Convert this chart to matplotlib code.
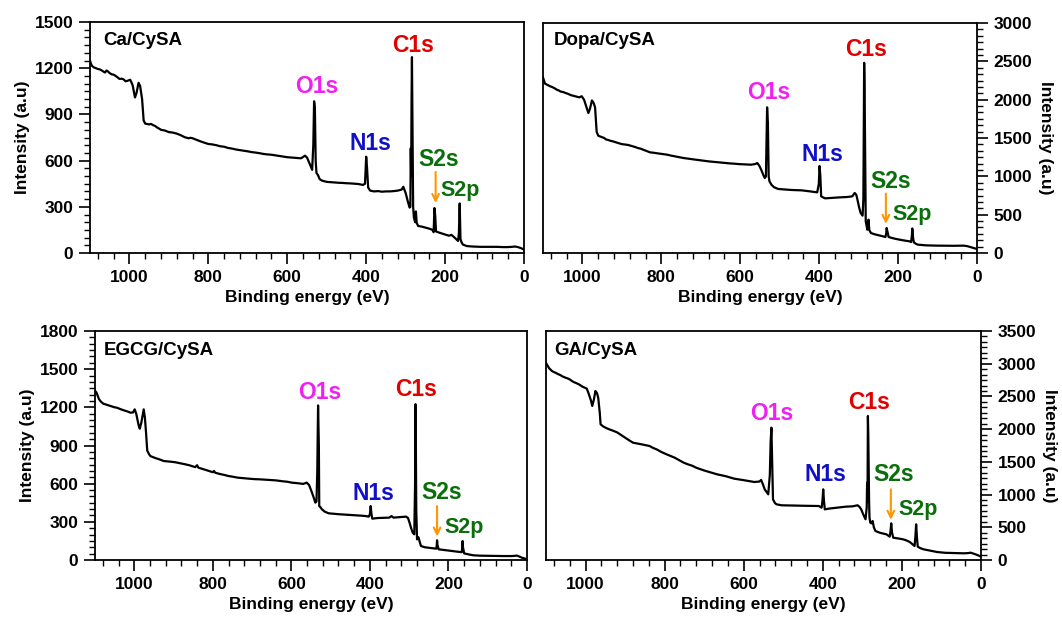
import matplotlib
matplotlib.use("Agg")
import matplotlib.pyplot as plt
from matplotlib.ticker import MultipleLocator, AutoMinorLocator

plt.rcParams['font.family'] = ['Liberation Sans', 'DejaVu Sans']
plt.rcParams['font.weight'] = 'bold'

# ---------------- data ----------------
titles = ["Ca/CySA", "Dopa/CySA", "EGCG/CySA", "GA/CySA"]
ymax = [1500, 3000, 1800, 3500]
ystep = [300, 500, 300, 500]

ca_pts = [(1100,1250),(1097,1225),(1095,1215),(1090,1205),(1085,1200),(1080,1195),(1075,1192),
          (1070,1185),(1066,1178),(1062,1172),(1058,1185),(1055,1180),(1050,1168),(1045,1160),
          (1040,1158),(1035,1150),(1030,1140),(1025,1130),(1020,1132),(1015,1128),(1010,1115),
          (1005,1118),(998,1125),(992,1090),
          (986,1010),(982,1040),(977,1105),(973,1085),(968,1000),(964,860),(960,840),(950,835),
          (945,838),(940,830),(935,825),(930,815),(925,808),(920,800),(910,795),(900,785),
          (890,782),(880,775),(870,765),(860,752),(850,745),(845,748),(840,745),(830,735),
          (820,725),(810,716),(800,708),(790,705),(780,700),(770,693),(760,690),(750,682),
          (740,678),(730,672),(720,668),(710,664),(700,660),(690,655),(680,652),(670,648),
          (660,643),(650,640),(640,638),(630,634),(620,630),(610,626),(600,622),(590,620),
          (580,618),(565,615),(555,632),(550,620),
          (545,590),(540,560),(537,540),(534,700),(532,985),(530,940),(528,600),(526,520),
          (522,505),(518,480),(512,470),(500,462),(490,460),(480,458),(470,456),(460,455),
          (450,453),(440,452),(430,450),(420,448),
          (408,442),(403,450),(400,625),(398,560),(395,425),(390,405),(380,400),(370,402),
          (360,398),(350,400),(340,400),(330,402),(320,405),(310,412),(306,430),(300,390),
          (295,340),(290,295),(288,300),
          (287,680),(286,500),(285,1000),(284,1272),(282,600),(281,300),(279,230),(276,200),
          (274,270),(272,195),(268,175),(260,172),(250,165),(240,158),(232,150),(229,135),
          (227,292),(225,240),(223,140),(218,135),(210,128),(200,120),(190,112),(184,118),
          (178,105),(172,90),(167,78),(165,130),(163,322),(161,90),(158,68),(155,55),(145,45),
          (130,42),(110,40),(90,40),(70,40),(50,38),(35,39),(22,42),(15,38),(8,32),(0,22)]

dopa_pts = [(1100,2290),(1095,2210),(1088,2190),(1082,2175),(1077,2165),(1071,2150),(1065,2130),
            (1060,2120),(1055,2105),(1049,2100),(1043,2087),(1036,2075),
            (1030,2060),(1024,2052),(1017,2043),(1008,2030),(1002,2045),(996,2000),(991,1922),(985,1826),
            (981,1880),(976,1990),(972,1960),(968,1900),(964,1580),(960,1530),(950,1510),
            (945,1500),(940,1480),(935,1475),(930,1465),(922,1455),(915,1443),(908,1432),
            (900,1420),(885,1410),(878,1400),(872,1391),(866,1382),(860,1370),(852,1360),
            (845,1345),(837,1330),(829,1313),(820,1308),(810,1300),(798,1292),(786,1283),
            (775,1270),(765,1260),(755,1250),(744,1239),(732,1230),(720,1222),(710,1215),
            (701,1209),(690,1202),(680,1195),(670,1190),(658,1183),(646,1178),(635,1172),
            (625,1168),(615,1165),(605,1160),(595,1158),(585,1155),(573,1152),
            (562,1160),(557,1174),(552,1140),(547,1087),(541,1010),(538,978),(535,1000),
            (533,1600),(532,1900),(530,1700),(528,1000),(526,935),(521,891),(515,860),(504,835),
            (492,830),(480,825),(470,822),(460,820),(452,818),(444,817),(435,812),(425,805),
            (410,795),(405,791),(401,900),(399,1135),
            (397,1000),(395,739),(390,725),(385,713),(378,716),(370,718),(360,722),(350,725),
            (340,728),(330,730),(322,735),(316,739),
            (310,783),(306,760),(303,696),(299,600),(295,522),(290,487),(288,700),(286,2480),
            (285,2200),(283,900),(282,413),(278,304),(276,380),(275,435),(273,300),(269,261),
            (260,245),(250,232),(239,217),(232,209),(230,260),(229,326),(227,280),(224,209),
            (215,195),(205,183),(190,168),(180,160),(171,152),(167,143),(165,230),(164,320),
            (162,200),(160,139),(155,120),(150,109),(130,100),(103,96),(80,95),(60,94),(34,96),
            (25,90),(17,78),(8,65),(0,52)]

egcg_pts = [(1100,1330),(1096,1315),(1090,1265),(1085,1245),(1079,1229),(1072,1222),(1065,1215),
            (1060,1210),(1055,1205),(1050,1200),(1044,1197),(1037,1188),
            (1030,1180),(1020,1170),(1015,1165),(1010,1158),(1003,1160),(999,1184),(995,1150),(993,1119),
            (989,1060),(986,1032),(982,1080),(978,1150),(976,1184),(973,1120),(970,1000),
            (967,860),(962,830),(959,817),(952,808),(945,800),(935,790),(925,778),(915,775),
            (905,772),(895,768),(882,760),(870,752),(860,745),
            (845,730),(840,745),(837,726),(825,715),(815,705),(808,698),(800,690),(797,700),
            (794,686),(782,676),(770,668),(760,660),
            (750,655),(736,647),(722,643),(710,640),(700,637),(690,635),(680,634),(670,632),
            (660,630),(651,629),(640,626),(630,622),(620,618),(610,615),
            (599,608),(582,603),(570,598),(561,608),(555,590),(548,534),(543,490),(539,451),
            (536,460),(534,700),(532,1215),(530,900),(529,424),(526,415),(522,398),(515,380),
            (505,367),(492,363),(480,360),(470,358),(460,356),(448,354),(437,351),(428,350),
            (420,348),(410,345),(403,341),(400,360),(398,424),
            (396,360),(394,325),(380,330),(365,332),(351,333),(345,345),(340,333),(320,338),
            (308,341),(303,330),(299,293),(295,250),(291,215),(287,202),(285,600),(284,1225),
            (283,900),(282,400),(280,162),(277,180),(276,175),(273,140),(270,110),(260,100),
            (250,96),(240,92),(231,89),(230,110),(229,155),(228,120),(225,84),(210,78),(195,72),
            (180,66),(171,63),(166,62),(165,100),(164,149),(163,100),(160,52),(150,45),(137,37),
            (120,34),(100,33),(80,32),(60,31),(40,31),(30,33),(26,35),(20,28),(13,18),(6,12),(0,5)]

ga_pts = [(1100,3010),(1098,2991),(1092,2930),(1085,2889),(1080,2872),(1075,2860),(1070,2842),
          (1065,2830),(1058,2805),(1051,2787),(1045,2775),
          (1040,2760),(1035,2738),(1030,2720),(1024,2705),(1017,2685),(1008,2650),(1002,2634),(997,2620),(993,2558),
          (987,2450),(983,2354),(979,2450),(975,2583),(971,2550),(968,2481),(964,2250),
          (962,2074),(955,2040),(948,2018),(940,1997),(930,1975),(920,1950),(910,1910),
          (900,1870),(890,1830),(880,1793),(870,1782),(860,1770),
          (845,1750),(838,1742),(830,1715),(820,1690),(808,1650),(795,1615),(785,1590),
          (775,1565),(764,1528),(752,1488),(741,1462),(730,1440),(720,1410),
          (709,1386),(700,1368),(690,1350),(678,1330),(667,1309),(656,1295),(645,1280),
          (635,1262),(624,1243),(612,1232),(600,1220),(587,1206),(573,1192),
          (560,1200),(556,1223),(551,1150),(547,1080),(541,1030),(538,1004),(534,1300),
          (532,1800),(530,2023),(528,1500),(526,927),(521,870),(517,851),(504,836),(492,835),
          (480,834),(470,832),
          (460,830),(450,829),(440,828),(430,828),(420,827),(410,825),(403,800),(401,900),(399,1080),(397,900),
          (395,774),(385,785),(370,795),(355,805),(342,815),(325,820),(312,836),(307,810),
          (303,774),(298,700),(292,622),(289,800),(288,1182),(287,900),(286,2201),(285,1900),
          (283,900),(282,650),(280,571),(277,560),(274,596),(271,500),(267,443),(255,415),
          (239,392),(231,357),(229,430),(227,560),(225,420),(222,341),(210,330),(197,316),
          (188,298),(180,275),(173,240),(168,214),(166,350),(164,545),(162,350),(160,204),
          (153,180),(145,163),(130,145),(111,122),(90,110),(70,106),(43,102),(32,106),
          (26,112),(20,100),(14,87),(7,70),(0,51)]

spectra = [ca_pts, dopa_pts, egcg_pts, ga_pts]

peak_names = ["O1s", "C1s", "N1s", "S2s", "S2p"]
peak_colors = ["#F020F0", "#E00000", "#1010C8", "#0A6E0A", "#0A6E0A"]
# label centres (energy, intensity) per panel, order as peak_names
label_pos = [
    [(526, 1083), (280, 1348), (390, 713), (217, 609), (161, 409)],
    [(528, 2087), (282, 2652), (393, 1291), (220, 935), (165, 500)],
    [(528, 1320), (283, 1341), (391, 524), (218, 534), (160, 254)],
    [(528, 2242), (282, 2405), (393, 1309), (220, 1309), (160, 774)],
]
# S2s arrows: (energy, start intensity, end intensity)
arrows = [(224, 526, 325), (231, 774, 380), (229, 424, 185), (228, 1080, 615)]

# ---------------- figure ----------------
W, H = 1062, 618
fig = plt.figure(figsize=(W / 100, H / 100), dpi=100)

boxes = [(90, 524, 22, 253), (543, 977, 23, 253), (95, 527, 331, 560), (546, 981, 331, 560)]
title_pos = [(0.03, 0.922), (0.025, 0.922), (0.02, 0.913), (0.02, 0.913)]

for i in range(4):
    l, r, t, b = boxes[i]
    ax = fig.add_axes([l / W, (H - b) / H, (r - l) / W, (b - t) / H])
    e = [p[0] for p in spectra[i]]
    v = [p[1] for p in spectra[i]]
    ax.plot(e, v, color='black', lw=1.6)
    ax.set_xlim(1100, 0)
    ax.set_ylim(0, ymax[i])
    ax.xaxis.set_major_locator(MultipleLocator(200))
    ax.xaxis.set_minor_locator(MultipleLocator(40))
    ax.yaxis.set_major_locator(MultipleLocator(ystep[i]))
    ax.yaxis.set_minor_locator(AutoMinorLocator(6))
    for s in ax.spines.values():
        s.set_linewidth(1.3)
    ax.tick_params(which='major', direction='out', length=8, width=1.2, pad=4, labelsize=12.5)
    ax.tick_params(which='minor', direction='out', length=4.5, width=1.0)
    right = (i % 2 == 1)
    if right:
        ax.tick_params(which='both', left=False, labelleft=False, right=True, labelright=True,
                       top=False)
        ax.yaxis.set_label_position('right')
        ax.set_ylabel("Intensity (a.u)", fontsize=12.5, fontweight='bold', rotation=270,
                      labelpad=15)
    else:
        ax.tick_params(which='both', top=False, right=False)
        ax.set_ylabel("Intensity (a.u)", fontsize=12.5, fontweight='bold', labelpad=3)
    for lab in ax.get_xticklabels() + ax.get_yticklabels():
        lab.set_fontweight('bold')
    ax.set_xlabel("Binding energy (eV)", fontsize=12.5, fontweight='bold', labelpad=4)

    tx, ty = title_pos[i]
    ax.text(tx, ty, titles[i], transform=ax.transAxes, fontsize=13.5, fontweight='bold',
            ha='left', va='center')

    for k, name in enumerate(peak_names):
        x, y = label_pos[i][k]
        fs = 15.5 if name == "S2p" else 16.5
        ax.text(x, y, name, color=peak_colors[k], fontsize=fs, fontweight='bold',
                ha='center', va='center')
    ae, ys, ye = arrows[i]
    ax.annotate('', xy=(ae, ye), xytext=(ae, ys),
                arrowprops=dict(arrowstyle='->', color='#FF9500', lw=1.5, mutation_scale=12,
                                shrinkA=0, shrinkB=0))

fig.savefig("out.png", dpi=100)
